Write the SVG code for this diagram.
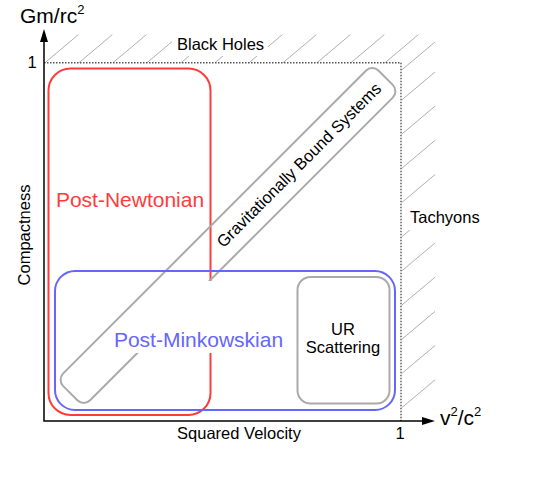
<svg xmlns="http://www.w3.org/2000/svg" width="545" height="477" viewBox="0 0 545 477">
<style>
text{font-family:"Liberation Sans",Arial,sans-serif;fill:#000}
.lbl{font-size:16.5px}
.big{font-size:21px}
.sup{font-size:13px}
.hatch{stroke:#9a9a9a;stroke-width:0.8;fill:none}
.dot{stroke:#555;stroke-width:1.4;stroke-dasharray:1.5,1.5;fill:none}
.axis{stroke:#000;stroke-width:1.5;fill:none}
.box{fill:none;stroke-width:2}
</style>
<rect width="545" height="477" fill="#fff"/>
<g id="hatching">
<path class="hatch" d="M45,62.7l33.3,-28 M79,62.7l33.3,-28 M113,62.7l33.3,-28 M147,62.7l33.3,-28 M181,62.7l33.3,-28 M215,62.7l33.3,-28 M249,62.7l33.3,-28 M283,62.7l33.3,-28 M317,62.7l33.3,-28 M351,62.7l33.3,-28 M385,62.7l33.3,-28 M401.7,70l33.3,-28 M401.7,100l33.3,-28 M401.7,134.2l33.3,-28 M401.7,168.4l33.3,-28 M401.7,202.6l33.3,-28 M401.7,236.8l33.3,-28 M401.7,271l33.3,-28 M401.7,305.2l33.3,-28 M401.7,339.4l33.3,-28 M401.7,373.6l33.3,-28 M401.7,407.8l33.3,-28"/>
</g>
<g id="black-holes">
<rect x="172" y="34" width="96" height="22" fill="#fff"/>
<text class="lbl" x="177" y="50">Black Holes</text>
</g>
<g id="tachyons">
<rect x="407" y="205" width="78" height="25" fill="#fff"/>
<text class="lbl" x="410" y="223">Tachyons</text>
</g>
<g id="limits">
<path class="dot" d="M44,62.75H401V421"/>
</g>
<g id="post-newtonian">
<rect class="box" x="48.5" y="68.5" width="162" height="346.5" rx="22" stroke="#ff3b3b"/>
<text class="big" x="130" y="207" text-anchor="middle" style="fill:#ff3b3b">Post-Newtonian</text>
</g>
<g id="bound-systems" transform="translate(228,235.5) rotate(-45)">
<rect class="box" x="-223" y="-19" width="446" height="38" rx="9" stroke="#aaaaaa"/>
<text class="lbl" x="100" y="6" text-anchor="middle">Gravitationally Bound Systems</text>
</g>
<g id="post-minkowskian">
<rect class="box" x="55" y="271" width="340" height="139" rx="20" stroke="#6666ff"/>
<polygon points="158,281 288,281 288,353 111,353 111,328 158,328" fill="#fff"/>
<text class="big" x="198.5" y="347" text-anchor="middle" style="fill:#6666ff">Post-Minkowskian</text>
</g>
<g id="ur-scattering">
<rect class="box" x="297.5" y="277" width="92" height="126.5" rx="13" stroke="#aaaaaa"/>
<text class="lbl" x="343" y="335" text-anchor="middle">UR</text>
<text class="lbl" x="343" y="352.7" text-anchor="middle">Scattering</text>
</g>
<g id="axes">
<path class="axis" d="M44,421.5V41 M43.25,421H423"/>
<polygon points="44,29 40,42 48,42" fill="#000"/>
<polygon points="435,421 422,417 422,425" fill="#000"/>
<text class="big" x="20" y="23">Gm/rc<tspan class="sup" dy="-9">2</tspan></text>
<text class="big" x="440" y="425">v<tspan class="sup" dy="-9">2</tspan><tspan dy="9">/c</tspan><tspan class="sup" dy="-9">2</tspan></text>
<text class="lbl" x="32" y="68" text-anchor="middle">1</text>
<text class="lbl" x="400" y="438.5" text-anchor="middle">1</text>
<text class="lbl" x="239" y="439.3" text-anchor="middle">Squared Velocity</text>
<text class="lbl" transform="translate(30,235) rotate(-90)" text-anchor="middle">Compactness</text>
</g>
</svg>
